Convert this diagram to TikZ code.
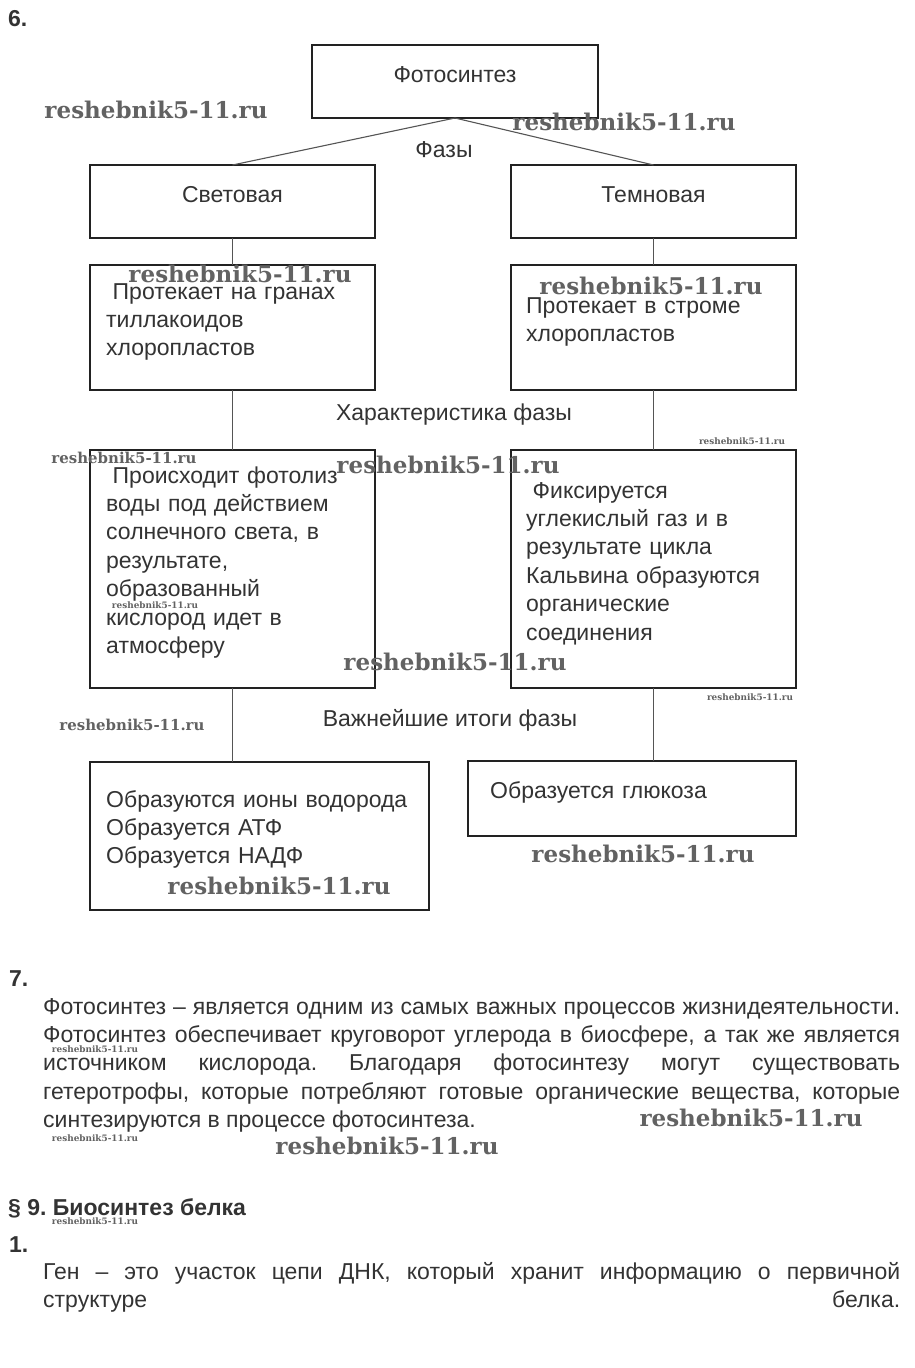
\documentclass[tikz,border=0pt]{standalone}
\usepackage{fontspec}
\setmainfont{Liberation Sans}
\newfontfamily\wmfont{DejaVu Serif}
\usepackage{graphicx}
\usepackage{tikz}
\frenchspacing

\definecolor{boxline}{HTML}{222222}
\definecolor{linkline}{HTML}{555555}
\definecolor{inktext}{HTML}{333333}
\definecolor{wmgray}{HTML}{626262}

\newcommand{\boxfont}{\fontsize{23}{28.4}\selectfont}
\newcommand{\wmark}[1]{\resizebox{#1}{!}{reshebnik5-11.ru}}

\tikzstyle{phasebox} = [rectangle, draw=boxline, line width=2pt, anchor=north west, inner sep=0pt, outer sep=0pt, text height=15pt, text depth=14pt, font=\boxfont, text=inktext]
\tikzstyle{boxtext} = [anchor=base west, inner sep=0pt, text width=340pt, align=left, font=\boxfont, text=inktext]
\tikzstyle{caption} = [anchor=base, inner sep=0pt, font=\boxfont, text=inktext]
\tikzstyle{heading} = [anchor=base west, inner sep=0pt, font=\boxfont\bfseries, text=inktext]
\tikzstyle{para} = [anchor=base west, inner sep=0pt, text width=857pt, align=justify, font=\boxfont, text=inktext]
\tikzstyle{link} = [draw=linkline, line width=1.1pt]
\tikzstyle{wm} = [inner sep=0pt, font=\wmfont\bfseries, text=wmgray]

\begin{document}
\begin{tikzpicture}[x=1pt, y=-1pt]
    \path[use as bounding box, fill=white] (0,0) rectangle (915,1368);

    \node (num6) [heading] at (8,26) {6.};

    % boxes
    \node (photo) [phasebox, minimum width=286pt, minimum height=73pt] at (312,45) {Фотосинтез};
    \node (light) [phasebox, minimum width=285pt, minimum height=73pt] at (90,165) {Световая};
    \node (dark) [phasebox, minimum width=285pt, minimum height=73pt] at (511,165) {Темновая};
    \node (lightwhere) [phasebox, minimum width=285pt, minimum height=125pt] at (90,265) {};
    \node (darkwhere) [phasebox, minimum width=285pt, minimum height=125pt] at (511,265) {};
    \node (lightchar) [phasebox, minimum width=285pt, minimum height=238pt] at (90,450) {};
    \node (darkchar) [phasebox, minimum width=285pt, minimum height=238pt] at (511,450) {};
    \node (lightres) [phasebox, minimum width=339pt, minimum height=148pt] at (90,762) {};
    \node (darkres) [phasebox, minimum width=328pt, minimum height=75pt] at (468,761) {};

    % box texts
    \node (lightwheretxt) [boxtext] at (106,299) {\hspace*{6.5pt}Протекает на гранах\\тиллакоидов\\хлоропластов};
    \node (darkwheretxt) [boxtext] at (526,313) {Протекает в строме\\хлоропластов};
    \node (lightchartxt) [boxtext] at (106,483) {\hspace*{6.5pt}Происходит фотолиз\\воды под действием\\солнечного света, в\\результате,\\образованный\\кислород идет в\\атмосферу};
    \node (darkchartxt) [boxtext] at (526,498) {\hspace*{6.5pt}Фиксируется\\углекислый газ и в\\результате цикла\\Кальвина образуются\\органические\\соединения};
    \node (lightrestxt) [boxtext] at (106,807) {Образуются ионы водорода\\Образуется АТФ\\Образуется НАДФ};
    \node (darkrestxt) [boxtext] at (490,798) {Образуется глюкоза};

    % captions
    \node (phases) [caption] at (444,157) {Фазы};
    \node (charlabel) [caption] at (454,420) {Характеристика фазы};
    \node (reslabel) [caption] at (450,726) {Важнейшие итоги фазы};

    \draw [link] (photo.south) -- (light.north);
    \draw [link] (photo.south) -- (dark.north);
    \draw [link] (light.south) -- (lightwhere.north);
    \draw [link] (dark.south) -- (darkwhere.north);
    \draw [link] (lightwhere.south) -- (lightchar.north);
    \draw [link] (darkwhere.south) -- (darkchar.north);
    \draw [link] (lightchar.south) -- (lightchar.south |- lightres.north);
    \draw [link] (darkchar.south) -- (darkchar.south |- darkres.north);

    % text below the scheme
    \node (num7) [heading] at (9,986) {7.};
    \node (answer7) [para] at (43,1014) {Фотосинтез – является одним из самых важных процессов жизнидеятельности.\linebreak
        Фотосинтез обеспечивает круговорот углерода в биосфере, а так же является\linebreak
        источником кислорода. Благодаря фотосинтезу могут существовать\linebreak
        гетеротрофы, которые потребляют готовые органические вещества, которые\linebreak
        синтезируются в процессе фотосинтеза.};
    \node (sect9) [heading] at (8,1215) {§ 9. Биосинтез белка};
    \node (num1) [heading] at (9,1252) {1.};
    \node (answer1) [para] at (43,1279) {Ген – это участок цепи ДНК, который хранит информацию о первичной\linebreak
        структуре\hfill белка.};

    % watermarks
    \node (wm1) [wm] at (156,110) {\wmark{223pt}};
    \node (wm2) [wm] at (624,122) {\wmark{223pt}};
    \node (wm3) [wm] at (240,274) {\wmark{223pt}};
    \node (wm4) [wm] at (651,286) {\wmark{223pt}};
    \node (wm5) [wm] at (124,458) {\wmark{145pt}};
    \node (wm6) [wm] at (448,465) {\wmark{223pt}};
    \node (wm7) [wm] at (742,441) {\wmark{86pt}};
    \node (wm8) [wm] at (155,605) {\wmark{86pt}};
    \node (wm9) [wm] at (455,662) {\wmark{223pt}};
    \node (wm10) [wm] at (750,697) {\wmark{86pt}};
    \node (wm11) [wm] at (132,725) {\wmark{145pt}};
    \node (wm12) [wm] at (643,854) {\wmark{223pt}};
    \node (wm13) [wm] at (279,886) {\wmark{223pt}};
    \node (wm14) [wm] at (95,1049) {\wmark{86pt}};
    \node (wm15) [wm] at (751,1118) {\wmark{223pt}};
    \node (wm16) [wm] at (95,1138) {\wmark{86pt}};
    \node (wm17) [wm] at (387,1146) {\wmark{223pt}};
    \node (wm18) [wm] at (95,1221) {\wmark{86pt}};
\end{tikzpicture}
\end{document}
